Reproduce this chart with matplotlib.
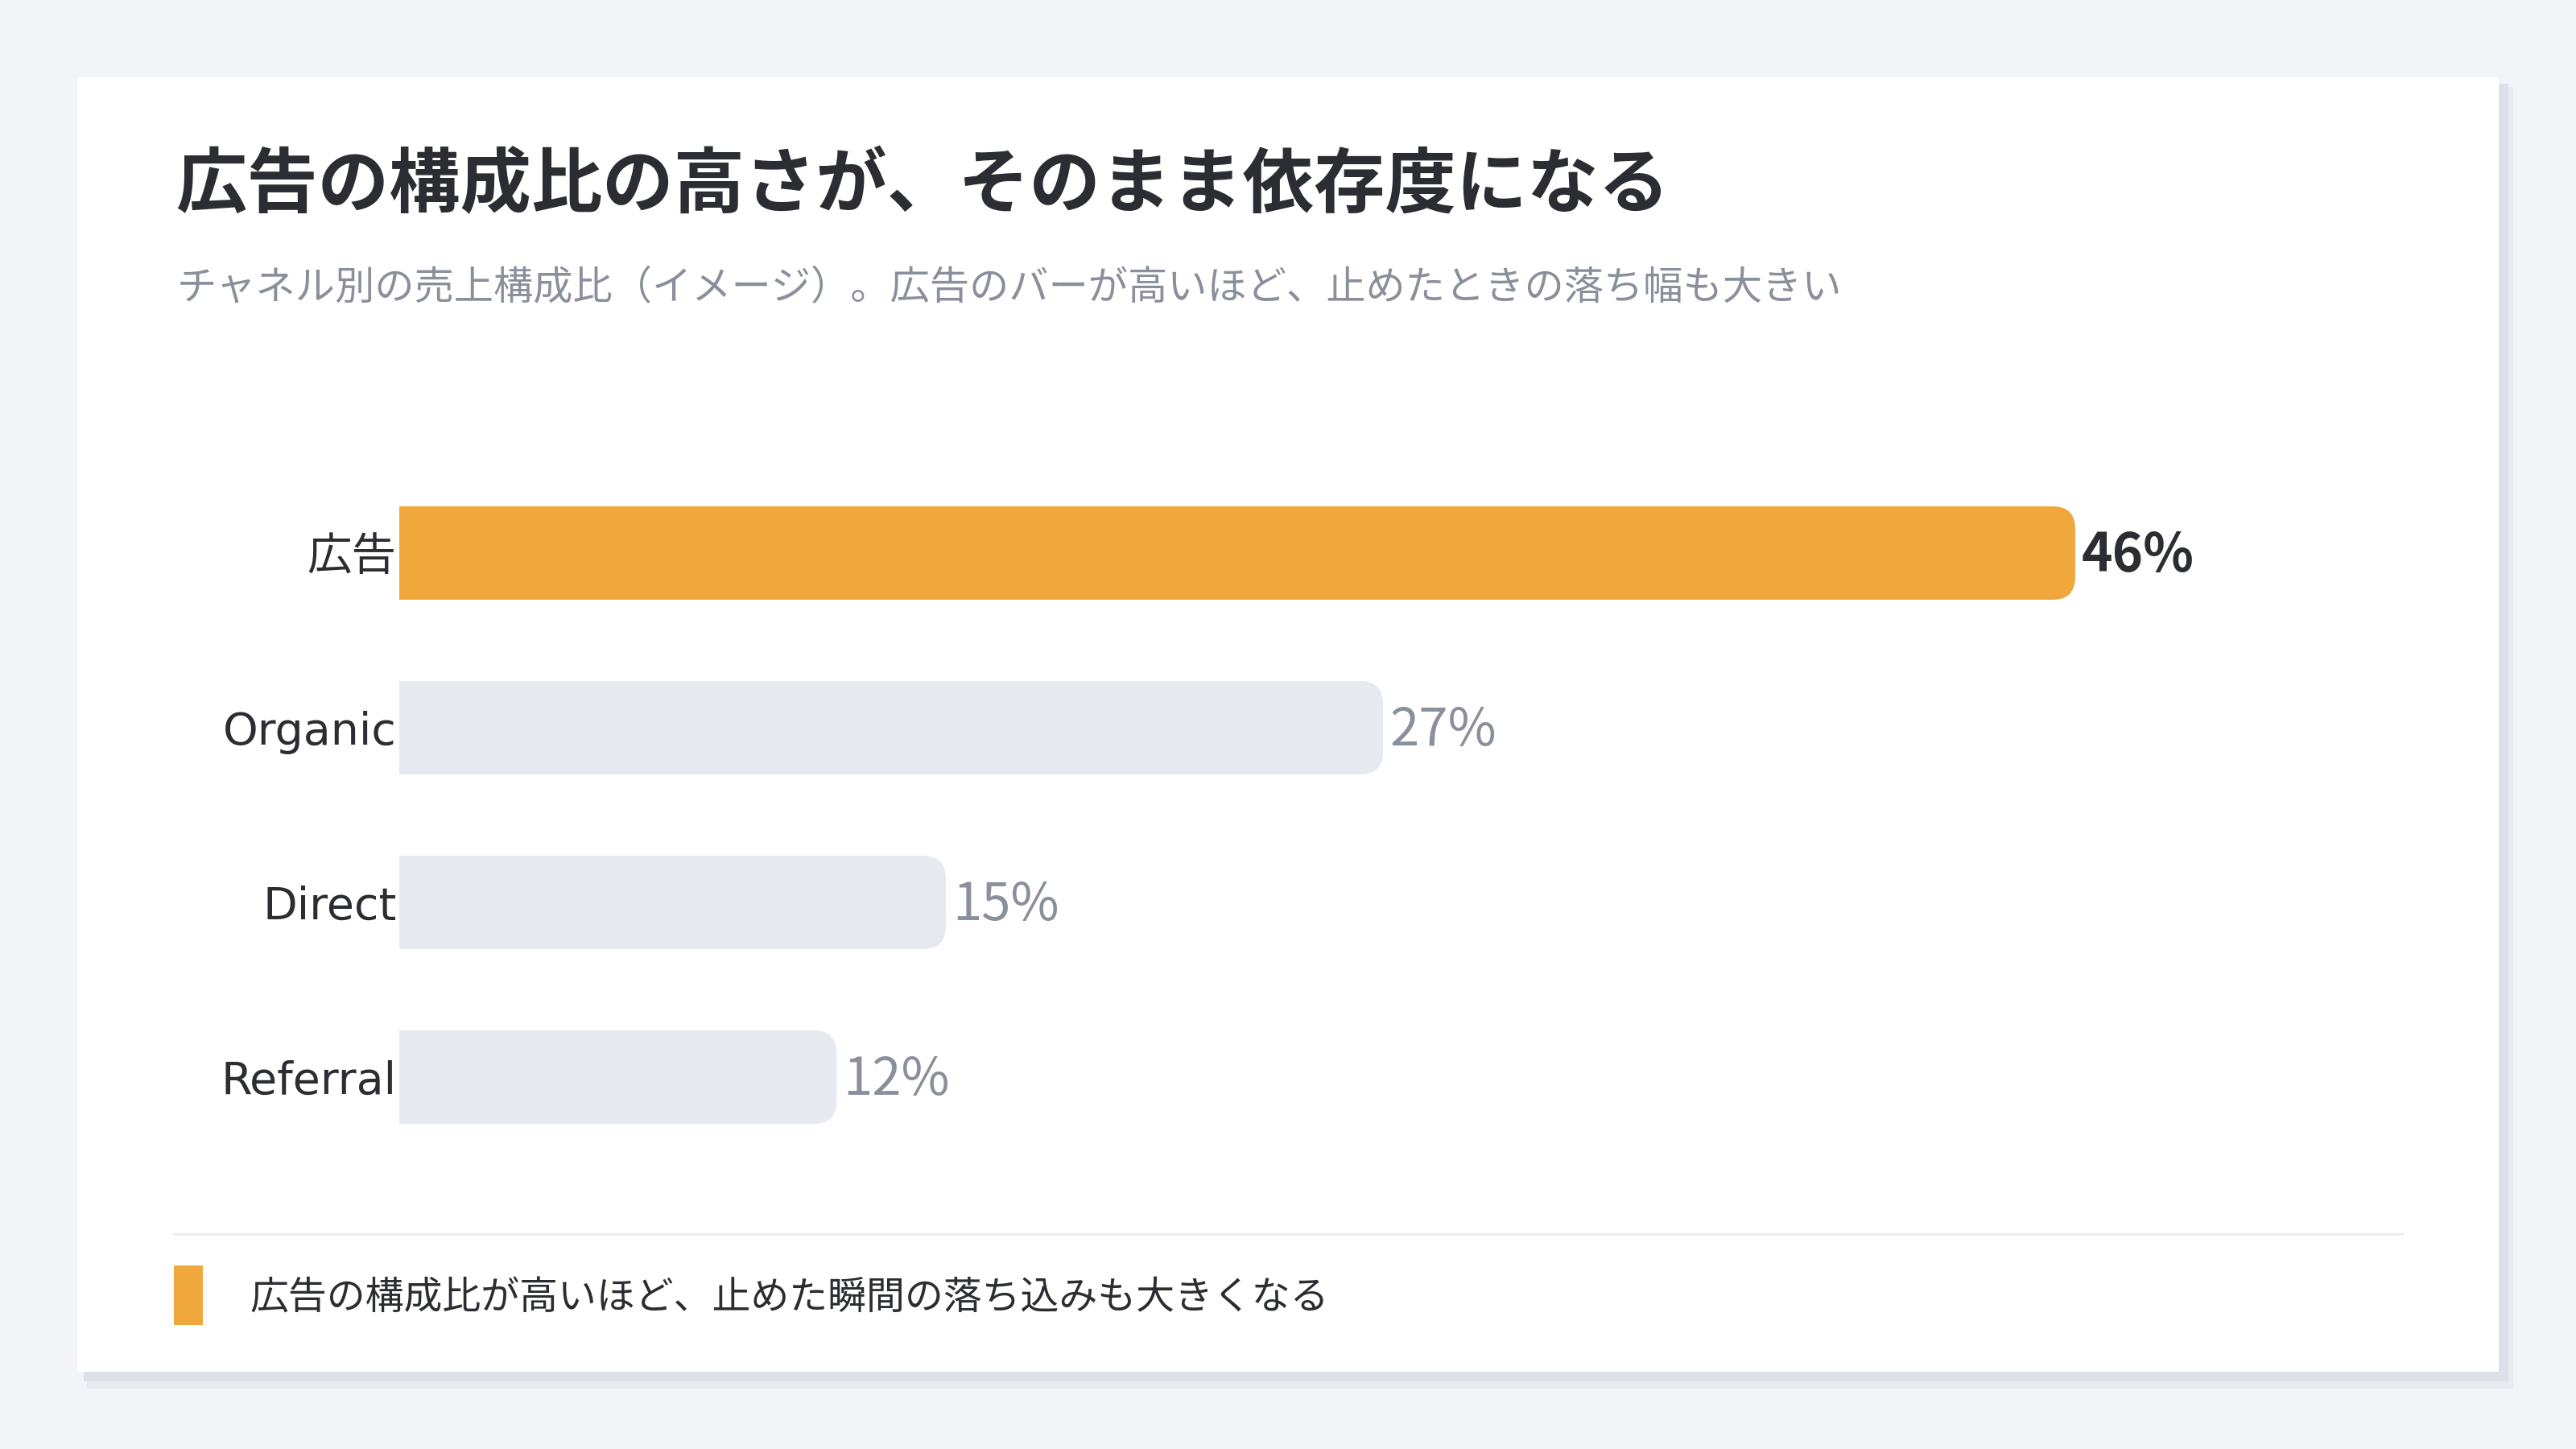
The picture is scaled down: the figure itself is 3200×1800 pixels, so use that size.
import matplotlib
matplotlib.use("Agg")
import matplotlib.pyplot as plt
from matplotlib.patches import Rectangle, FancyBboxPatch

plt.rcParams['font.family'] = ['Noto Sans CJK JP', 'DejaVu Sans']

# ---- data ----
categories = ["広告", "Organic", "Direct", "Referral"]
values = [46, 27, 15, 12]
highlight = "広告"
title = "広告の構成比の高さが、そのまま依存度になる"
subtitle = "チャネル別の売上構成比（イメージ）。広告のバーが高いほど、止めたときの落ち幅も大きい"
footnote = "広告の構成比が高いほど、止めた瞬間の落ち込みも大きくなる"

# ---- style ----
W, H, DPI = 3200, 1800, 200
BG = "#f3f4f8"
CARD = "#ffffff"
ORANGE = "#f0a83c"
GREY_BAR = "#e6e9f0"
DARK = "#2b2d33"
MUTED = "#8a909b"

fig = plt.figure(figsize=(W / DPI, H / DPI), dpi=DPI, facecolor=BG)

def fx(px):
    return px / W

def fy(py):
    return 1 - py / H

# card shadow + card
fig.patches.append(Rectangle((fx(108), fy(1725)), fx(3122 - 108), (1725 - 108) / H,
                             transform=fig.transFigure, facecolor="#e9ebf0", edgecolor="none", zorder=0))
fig.patches.append(Rectangle((fx(104), fy(1716)), fx(3116 - 104), (1716 - 104) / H,
                             transform=fig.transFigure, facecolor="#dde0e7", edgecolor="none", zorder=0.5))
fig.patches.append(Rectangle((fx(96), fy(1704)), fx(3104 - 96), (1704 - 96) / H,
                             transform=fig.transFigure, facecolor=CARD, edgecolor="none", zorder=1))

# title & subtitle
fig.text(fx(218), fy(231), title, fontsize=31.8, fontweight="bold", color=DARK,
         ha="left", va="center", zorder=3)
fig.text(fx(220), fy(357), subtitle, fontsize=17.75, color=MUTED,
         ha="left", va="center", zorder=3)

# separator
fig.add_artist(plt.Line2D([fx(216), fx(2984)], [fy(1533), fy(1533)], transform=fig.transFigure,
                          color="#eceef2", linewidth=1.2, zorder=3))
# footnote marker + text
fig.patches.append(Rectangle((fx(216), fy(1646)), fx(36), 74 / H, transform=fig.transFigure,
                             facecolor=ORANGE, edgecolor="none", zorder=3))
fig.text(fx(310), fy(1613), footnote, fontsize=17.25, color=DARK, ha="left", va="center", zorder=3)

# ---- bar axes ----
px_per_unit_x = 45.26
px_per_unit_y = 217.0
ax_left, ax_right = 496, 2984
ax_top = 687 - 0.5 * px_per_unit_y
ax_h = 4 * px_per_unit_y
ax = fig.add_axes([fx(ax_left), fy(ax_top + ax_h), fx(ax_right - ax_left), ax_h / H])
ax.set_zorder(2)
ax.patch.set_alpha(0)
xmax = (ax_right - ax_left) / px_per_unit_x
ax.set_xlim(0, xmax)
ax.set_ylim(len(categories) - 0.5, -0.5)

bar_h = 116 / px_per_unit_y
r_px = 28
rx = r_px / px_per_unit_x
aspect = px_per_unit_x / px_per_unit_y

for i, (c, v) in enumerate(zip(categories, values)):
    col = ORANGE if c == highlight else GREY_BAR
    ax.barh(i, v / 2, height=bar_h, color=col, edgecolor="none", linewidth=0)
    ax.add_patch(FancyBboxPatch((0, i - bar_h / 2), v, bar_h,
                                boxstyle=f"round,pad=0,rounding_size={rx}",
                                mutation_aspect=aspect,
                                facecolor=col, edgecolor="none", linewidth=0))
    is_hi = c == highlight
    ax.text(v + 8 / px_per_unit_x, i + 0.015, f"{v}%", fontsize=23.5,
            fontweight="bold" if is_hi else "normal",
            color=DARK if is_hi else MUTED, ha="left", va="center")

ax.set_yticks(range(len(categories)))
ax.set_yticklabels(categories, fontsize=20, color=DARK,
                   family=['DejaVu Sans', 'Noto Sans CJK JP'])
ax.tick_params(axis="y", length=0, pad=1.2)
ax.set_xticks([])
for s in ax.spines.values():
    s.set_visible(False)

fig.savefig("out.png", dpi=DPI, facecolor=BG)
